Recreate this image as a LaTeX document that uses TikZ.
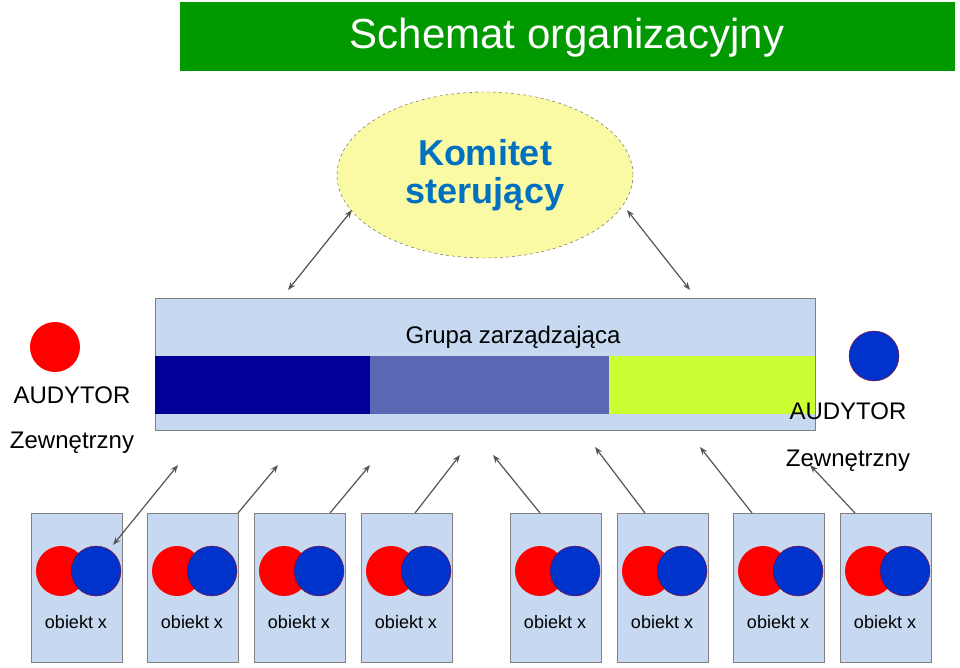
\documentclass[tikz,border=0pt]{standalone}
\usepackage{fontspec}
\setmainfont{Liberation Sans}
\usetikzlibrary{arrows.meta, shapes.geometric}
\definecolor{banner}{RGB}{0,153,0}
\definecolor{boxblue}{RGB}{198,217,240}
\definecolor{ovalfill}{RGB}{250,250,165}
\definecolor{titleblue}{RGB}{0,112,192}
\definecolor{dkblue}{RGB}{0,0,153}
\definecolor{midblue}{RGB}{90,104,180}
\definecolor{lime}{RGB}{204,255,51}
\definecolor{objblue}{RGB}{0,51,204}
\definecolor{arrowgray}{RGB}{89,84,78}
\begin{document}
\begin{tikzpicture}[x=1pt,y=-1pt,>={Stealth[length=8pt,width=6pt]},
  link/.style={draw=arrowgray,line width=1.2pt},
  objbox/.style={draw=gray,fill=boxblue,minimum width=91pt,minimum height=149pt,anchor=north west,inner sep=0pt},
  redball/.style={circle,fill=red,minimum size=50pt,inner sep=0pt},
  blueball/.style={circle,fill=objblue,draw=red!70!black,minimum size=50pt,inner sep=0pt},
  label/.style={font=\fontsize{24}{28}\selectfont}]
  \useasboundingbox (0,0) rectangle (960,667);
  % title
  \node[fill=banner,minimum width=775pt,minimum height=69pt,anchor=north west,inner sep=0pt] (banner) at (180,2) {};
  \node[text=white,font=\fontsize{42}{46}\selectfont] (title) at (567,38) {Schemat organizacyjny};
  % committee
  \node[ellipse,draw=arrowgray,dashed,fill=ovalfill,minimum width=296pt,minimum height=166pt,
    text=titleblue,font=\fontsize{36}{38}\bfseries\selectfont,align=center] (komitet) at (485,175) {Komitet\\sterujący};
  % management group
  \node[draw=gray,fill=boxblue,minimum width=660pt,minimum height=132pt,anchor=north west,inner sep=0pt] (grupa) at (155,298) {};
  \node[label] (grupalbl) at (513,337) {Grupa zarządzająca};
  \fill[dkblue] (155,356) rectangle (370,414);
  \fill[midblue] (370,356) rectangle (609,414);
  \fill[lime] (609,356) rectangle (815,414);
  % auditors
  \node[redball] (aud1) at (55,347) {};
  \node[label] (aud1a) at (72,395) {AUDYTOR};
  \node[label] (aud1b) at (72,443) {Zewnętrzny};
  \node[blueball] (aud2) at (874,356) {};
  \node[label] (aud2a) at (848,411) {AUDYTOR};
  \node[label] (aud2b) at (848,461) {Zewnętrzny};
  % objects
  \foreach \i/\x in {1/31,2/147,3/254,4/361,5/510,6/617,7/733,8/840} {
    \node[objbox] (obj\i) at (\x,513) {};
    \node[redball] (r\i) at (\x+30,571) {};
    \node[blueball] (b\i) at (\x+65,571) {};
    \node[font=\fontsize{18}{20}\selectfont] (t\i) at (\x+45,622) {obiekt x};
  }
  % arrows
  \coordinate (k1) at (352,210); \coordinate (g1) at (288,290);
  \coordinate (k2) at (627,210); \coordinate (g2) at (690,290);
  \draw[link,<->] (g1) -- (k1);
  \draw[link,<->] (g2) -- (k2);
  \coordinate (s1) at (113,545); \coordinate (e1) at (178,465);
  \draw[link,<->] (s1) -- (e1);
  \foreach \i/\sx/\ex/\ey in {2/238/278/465,3/330/370/465,4/415/460/455,5/540/493/455,6/645/595/447,7/752/700/447,8/855/810/465} {
    \coordinate (s\i) at (\sx,513); \coordinate (e\i) at (\ex,\ey);
    \draw[link,->] (s\i) -- (e\i);
  }
\end{tikzpicture}
\end{document}
